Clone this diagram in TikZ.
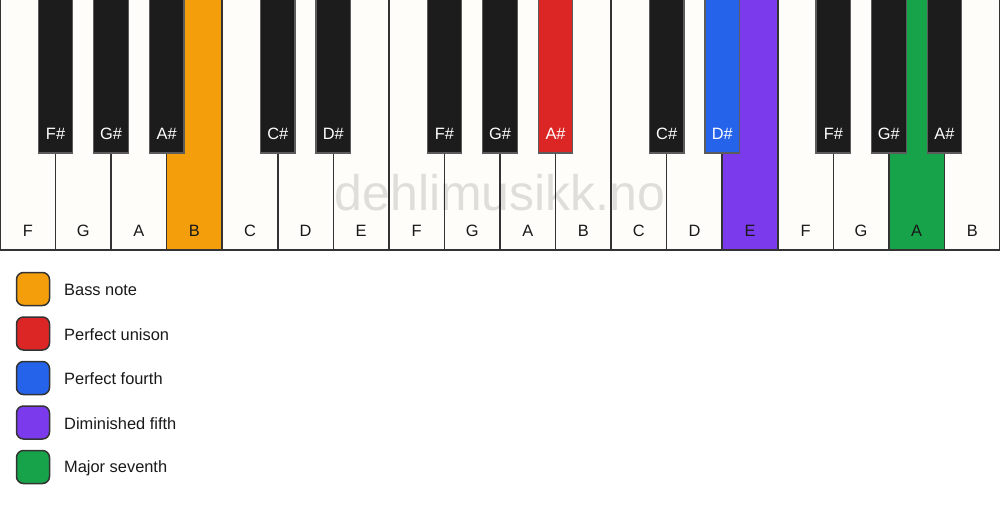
\documentclass[tikz,border=0pt]{standalone}
\usepackage{fontspec}
\setmainfont{Liberation Sans}
\definecolor{wkey}{HTML}{FEFDF9}
\definecolor{bkey}{HTML}{1C1C1C}
\definecolor{edge}{HTML}{333333}
\definecolor{cBass}{HTML}{F59E0B}
\definecolor{cUni}{HTML}{DC2626}
\definecolor{cFourth}{HTML}{2563EB}
\definecolor{cDim}{HTML}{7C3AED}
\definecolor{cSev}{HTML}{16A34A}
\tikzset{
  whitekey/.style={draw=edge, line width=1.5pt},
  blackkey/.style={draw=edge!80!white, line width=1.2pt},
  wlabel/.style={font=\fontsize{16.4}{18}\selectfont, text=black!90, anchor=base},
  blabel/.style={font=\fontsize{16.4}{18}\selectfont, text=white, anchor=base},
  legbox/.style={draw=edge, line width=1.5pt, rounded corners=7pt, minimum width=33pt, minimum height=33pt, inner sep=0pt},
  legtext/.style={font=\fontsize{16.4}{18}\selectfont, text=black!90, anchor=west, inner sep=0pt},
  mark text/.style={font=\fontsize{50}{55}\selectfont, text=black, text opacity=0.12}
}
\begin{document}
\begin{tikzpicture}[x=1pt,y=1pt]
\useasboundingbox (0,0) rectangle (1000,-506);
\fill[white] (0,0) rectangle (1000,-506);
% white keys
\def\ww{55.5556}
\foreach \n/\i/\c in {F/0/wkey,G/1/wkey,A/2/wkey,B/3/cBass,C/4/wkey,D/5/wkey,E/6/wkey,F/7/wkey,G/8/wkey,A/9/wkey,B/10/wkey,C/11/wkey,D/12/wkey,E/13/cDim,F/14/wkey,G/15/wkey,A/16/cSev,B/17/wkey}{
  \draw[whitekey, fill=\c] ({\i*\ww},0.75) rectangle ({(\i+1)*\ww},-250);
  \node[wlabel] (w\i) at ({(\i+0.5)*\ww},-236) {\n};
}
% watermark
\node[mark text] (wm) at (500,-193) {dehlimusikk.no};
% black keys
\foreach \n/\i/\c in {F\#/1/bkey,G\#/2/bkey,A\#/3/bkey,C\#/5/bkey,D\#/6/bkey,F\#/8/bkey,G\#/9/bkey,A\#/10/cUni,C\#/12/bkey,D\#/13/cFourth,F\#/15/bkey,G\#/16/bkey,A\#/17/bkey}{
  \draw[blackkey, fill=\c] ({\i*\ww-17.3},0.75) rectangle ({\i*\ww+17.3},-153);
  \node[blabel] (b\i) at ({\i*\ww},-139) {\n};
}
% legend
\foreach \c/\t/\k in {cBass/Bass note/0,cUni/Perfect unison/1,cFourth/Perfect fourth/2,cDim/Diminished fifth/3,cSev/Major seventh/4}{
  \node[legbox, fill=\c] (lb\k) at (33,{-289-\k*44.5}) {};
  \node[legtext] (lt\k) at (64,{-290-\k*44.5}) {\t};
}
\end{tikzpicture}
\end{document}
